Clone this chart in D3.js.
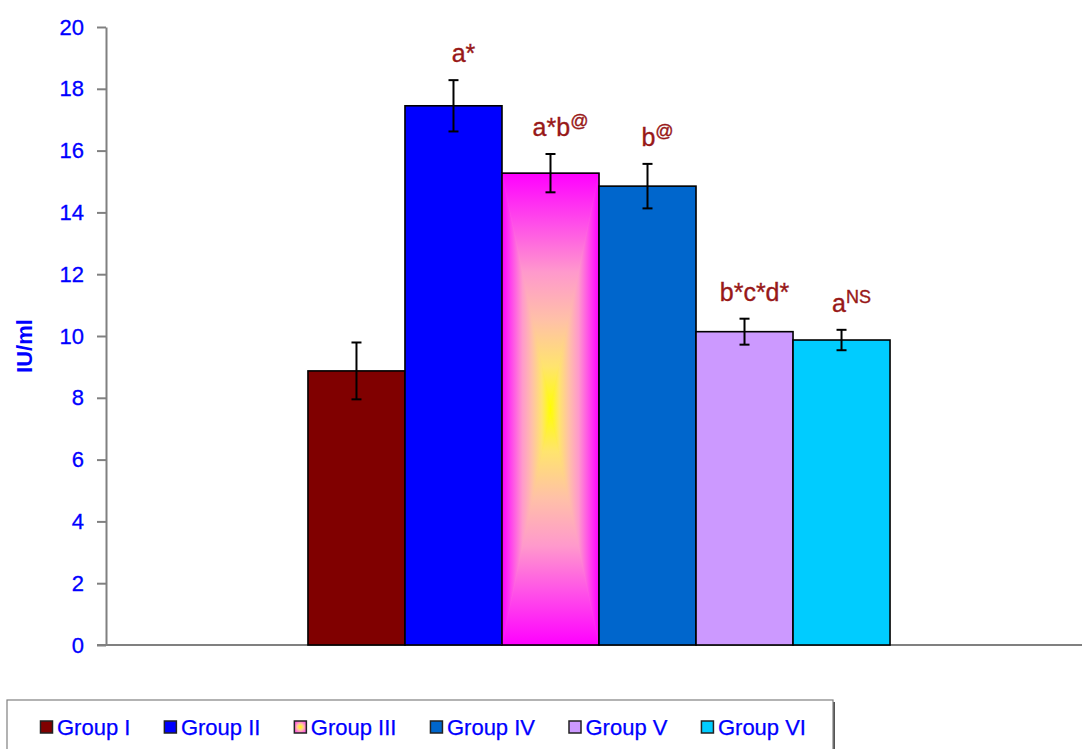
<!DOCTYPE html>
<html>
<head>
<meta charset="utf-8">
<script src="https://cdn.jsdelivr.net/npm/d3@7"></script>
<style>
  html, body { margin: 0; padding: 0; background: #fff; }
  svg { display: block; font-family: "Liberation Sans", Arial, sans-serif; }
</style>
</head>
<body>
<svg id="chart" width="1082" height="749"></svg>
<script>
// ---- data ----
const groups = ["Group I", "Group II", "Group III", "Group IV", "Group V", "Group VI"];
const means = [8.87, 17.45, 15.27, 14.85, 10.14, 9.87];
const errors = [0.92, 0.83, 0.62, 0.72, 0.42, 0.33];
const labelMain = ["", "a*", "a*b", "b", "b*c*d*", "a"];
const labelSup = ["", "", "@", "@", "", "NS"];
const colors = ["#800000", "#0000FF", "gradient", "#0066CC", "#CC99FF", "#00CCFF"];
const yTicks = [0, 2, 4, 6, 8, 10, 12, 14, 16, 18, 20];
const yTitle = "IU/ml";

// ---- layout ----
const svg = d3.select("#chart");
const plot = { left: 106, right: 1092, top: 27, bottom: 645 };

const y = d3.scaleLinear().domain([0, 20]).range([plot.bottom, plot.top]);
const xOuter = d3.scaleBand().domain(["all"]).range([plot.left, plot.right])
  .paddingInner(0).paddingOuter(0.347);
const x = d3.scaleBand().domain(groups)
  .range([xOuter("all"), xOuter("all") + xOuter.bandwidth()]).padding(0);

const defs = svg.append("defs");
// gradient stops for Group III (magenta edges -> yellow centre)
const stops = [
  [0, "#FF00FF"], [0.22, "#FF50E8"], [0.42, "#FF99CC"], [0.62, "#FFC0A8"],
  [0.82, "#FFE46E"], [1, "#FFFF00"]
];
function linGrad(id, x1, y1, x2, y2) {
  const g = defs.append("linearGradient").attr("id", id)
    .attr("gradientUnits", "userSpaceOnUse")
    .attr("x1", x1).attr("y1", y1).attr("x2", x2).attr("y2", y2);
  stops.forEach(s => g.append("stop").attr("offset", s[0]).attr("stop-color", s[1]));
}
const rg = defs.append("radialGradient").attr("id", "swatchGrad");
[[0, "#FFFF00"], [0.5, "#FFCC99"], [1, "#FF66DD"]].forEach(s =>
  rg.append("stop").attr("offset", s[0]).attr("stop-color", s[1]));

// ---- axes ----
const yAxis = d3.axisLeft(y).tickValues(yTicks).tickSize(9).tickPadding(13).tickSizeOuter(0);
const gy = svg.append("g").attr("transform", `translate(${plot.left},0)`).call(yAxis);
gy.select(".domain").attr("stroke", "#808080").attr("stroke-width", 2);
gy.selectAll(".tick line").attr("stroke", "#808080").attr("stroke-width", 2);
gy.selectAll(".tick text").attr("fill", "#0000FF").attr("font-size", 22)
  .attr("stroke", "#0000FF").attr("stroke-width", 0.3)
  .attr("font-family", "'Liberation Sans', Arial, sans-serif");

// x axis baseline
svg.append("line")
  .attr("x1", plot.left - 9).attr("x2", 1082)
  .attr("y1", y(0)).attr("y2", y(0))
  .attr("stroke", "#808080").attr("stroke-width", 2);

svg.append("text")
  .attr("transform", `translate(32,${(plot.top + plot.bottom) / 2 + 10}) rotate(-90)`)
  .attr("text-anchor", "middle")
  .attr("font-size", 22).attr("font-weight", "bold").attr("fill", "#0000FF")
  .text(yTitle);

// ---- bars ----
const bars = svg.append("g");
groups.forEach((g, i) => {
  const x0 = x(g), x1 = x(g) + x.bandwidth();
  const y0 = y(means[i]), y1 = y(0);
  if (colors[i] === "gradient") {
    const cx = (x0 + x1) / 2, cy = (y0 + y1) / 2;
    linGrad("gT", cx, y0, cx, cy);
    linGrad("gB", cx, y1, cx, cy);
    linGrad("gL", x0, cy, cx, cy);
    linGrad("gR", x1, cy, cx, cy);
    bars.append("rect").attr("x", x0).attr("y", y0).attr("width", x1 - x0)
      .attr("height", y1 - y0).attr("fill", "#FF99CC");
    const tri = [
      [[x0, y0], [x1, y0], [cx, cy], "gT"],
      [[x0, y1], [x1, y1], [cx, cy], "gB"],
      [[x0, y0], [x0, y1], [cx, cy], "gL"],
      [[x1, y0], [x1, y1], [cx, cy], "gR"]
    ];
    tri.forEach(t => bars.append("path")
      .attr("d", d3.line()([t[0], t[1], t[2]]) + "Z")
      .attr("fill", `url(#${t[3]})`).attr("stroke", `url(#${t[3]})`).attr("stroke-width", 0.6));
    bars.append("rect").attr("x", x0).attr("y", y0).attr("width", x1 - x0)
      .attr("height", y1 - y0).attr("fill", "none").attr("stroke", "#000").attr("stroke-width", 1.6);
  } else {
    bars.append("rect").attr("x", x0).attr("y", y0).attr("width", x1 - x0)
      .attr("height", y1 - y0).attr("fill", colors[i])
      .attr("stroke", "#000").attr("stroke-width", 1.6);
  }
});

// ---- error bars ----
const eb = svg.append("g").attr("stroke", "#000").attr("stroke-width", 2);
groups.forEach((g, i) => {
  const cx = x(g) + x.bandwidth() / 2;
  const yt = y(means[i] + errors[i]), yb = y(means[i] - errors[i]);
  eb.append("line").attr("x1", cx).attr("x2", cx).attr("y1", yt).attr("y2", yb);
  eb.append("line").attr("x1", cx - 5).attr("x2", cx + 5).attr("y1", yt).attr("y2", yt);
  eb.append("line").attr("x1", cx - 5).attr("x2", cx + 5).attr("y1", yb).attr("y2", yb);
});

// ---- annotations ----
const ann = svg.append("g").attr("fill", "#981818").attr("font-size", 25)
  .attr("stroke", "#981818").attr("stroke-width", 0.35);
groups.forEach((g, i) => {
  if (!labelMain[i]) return;
  const cx = x(g) + x.bandwidth() / 2 + 10;
  const t = ann.append("text").attr("x", cx).attr("y", y(means[i] + errors[i]) - 18)
    .attr("text-anchor", "middle");
  t.append("tspan").text(labelMain[i]);
  if (labelSup[i]) {
    t.append("tspan").attr("font-size", 18).attr("dy", -9).text(labelSup[i]);
  }
});

// ---- legend ----
const legend = svg.append("g");
legend.append("rect").attr("x", 9).attr("y", 702).attr("width", 826).attr("height", 60)
  .attr("fill", "#555");
legend.append("rect").attr("x", 7).attr("y", 700).attr("width", 826).attr("height", 60)
  .attr("fill", "#fff").attr("stroke", "#808080").attr("stroke-width", 1.2);
let lx = 40;
groups.forEach((g, i) => {
  legend.append("rect").attr("x", lx + 0.5).attr("y", 721).attr("width", 12).attr("height", 12)
    .attr("fill", colors[i] === "gradient" ? "url(#swatchGrad)" : colors[i])
    .attr("stroke", "#222").attr("stroke-width", 1.5);
  const t = legend.append("text").attr("x", lx + 17).attr("y", 735)
    .attr("font-size", 22).attr("fill", "#0000FF")
    .attr("stroke", "#0000FF").attr("stroke-width", 0.25).text(g);
  lx = lx + 17 + t.node().getComputedTextLength() + 33.5;
});
</script>
</body>
</html>
